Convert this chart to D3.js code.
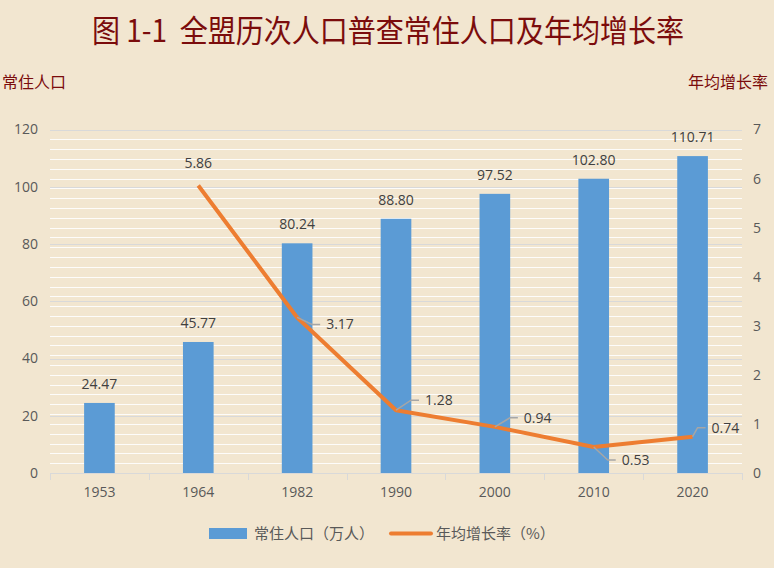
<!DOCTYPE html>
<html><head><meta charset="utf-8">
<script src="https://cdn.jsdelivr.net/npm/d3@7"></script>
<style>
html,body{margin:0;padding:0;background:#F2E6D0;}
svg{display:block;}
</style></head>
<body>
<svg id="chart" width="774" height="568"></svg>
<script>
const years = ["1953","1964","1982","1990","2000","2010","2020"];
const population = [24.47,45.77,80.24,88.80,97.52,102.80,110.71];
const growth = [null,5.86,3.17,1.28,0.94,0.53,0.74];
const leftTicks = [0,20,40,60,80,100,120];
const rightTicks = [0,1,2,3,4,5,6,7];
// label placement for growth labels: [dx, dy, type]
const growthLabelOffsets = [null,[0,-22,"above"],[33,7,"leader"],[33,-10,"leader"],[33,-9,"leader"],[32,13,"leader"],[23,-9,"leader"]];

const svg = d3.select("#chart");
const W=774,H=568;
svg.append("rect").attr("width",W).attr("height",H).attr("fill","#F2E6D0");
const m={l:50,r:742,t:129.5,b:473};
const x=d3.scaleBand().domain(years).range([m.l,m.r]).paddingInner(0.69).paddingOuter(0.345);
const xb=d3.scaleBand().domain(years).range([m.l,m.r]);
const yL=d3.scaleLinear().domain([0,120]).range([m.b,m.t]);
const yR=d3.scaleLinear().domain([0,7]).range([m.b,m.t]);
const grey="#595959";
const font="'Open Sans','Noto Sans CJK SC',sans-serif";
const cjk="'Noto Sans CJK SC',sans-serif";

// minor grid (right axis every 0.2)
const minor=d3.range(0,7.01,0.2);
svg.append("g").selectAll("line").data(minor).join("line")
 .attr("x1",m.l).attr("x2",m.r).attr("y1",d=>Math.round(yR(d))+0.5).attr("y2",d=>Math.round(yR(d))+0.5)
 .attr("stroke","#FFFFFF").attr("stroke-width",1).attr("opacity",0.9);
// major grid
svg.append("g").selectAll("line").data(leftTicks.slice(1)).join("line")
 .attr("x1",m.l).attr("x2",m.r).attr("y1",d=>Math.round(yL(d))+0.5).attr("y2",d=>Math.round(yL(d))+0.5)
 .attr("stroke","#D9D9D9").attr("stroke-width",1);

// bars
svg.append("g").selectAll("rect").data(population).join("rect")
 .attr("x",(d,i)=>x(years[i])).attr("width",x.bandwidth())
 .attr("y",d=>yL(d)).attr("height",d=>yL(0)-yL(d)).attr("fill","#5B9BD5");

// x axis
const xAxis=d3.axisBottom(xb).tickSize(0).tickPadding(14);
const gx=svg.append("g").attr("transform",`translate(0,${m.b})`).call(xAxis);
gx.select(".domain").attr("stroke","#D9D9D9");
gx.selectAll("text").attr("fill",grey).attr("font-size",14).attr("font-family",font);
svg.append("g").selectAll("line").data(d3.range(years.length+1)).join("line")
 .attr("x1",i=>Math.round(m.l+i*xb.step())+0.5).attr("x2",i=>Math.round(m.l+i*xb.step())+0.5)
 .attr("y1",m.b).attr("y2",m.b+7).attr("stroke","#D9D9D9");

// left axis
const gl=svg.append("g").attr("transform",`translate(${m.l},0)`)
 .call(d3.axisLeft(yL).tickValues(leftTicks).tickSize(0).tickPadding(12));
gl.select(".domain").remove();
gl.selectAll("text").attr("fill",grey).attr("font-size",14).attr("font-family",font);
// right axis
const gr=svg.append("g").attr("transform",`translate(${m.r},0)`)
 .call(d3.axisRight(yR).tickValues(rightTicks).tickFormat(d3.format("d")).tickSize(0).tickPadding(11));
gr.select(".domain").remove();
gr.selectAll("text").attr("fill",grey).attr("font-size",14).attr("font-family",font);

// bar labels
svg.append("g").selectAll("text").data(population).join("text")
 .attr("x",(d,i)=>x(years[i])+x.bandwidth()/2).attr("y",d=>yL(d)-14)
 .attr("text-anchor","middle").attr("fill","#404040").attr("font-size",14).attr("font-family",font)
 .text(d=>d.toFixed(2));

// line
const pts=growth.map((g,i)=>g==null?null:{x:x(years[i])+x.bandwidth()/2,y:yR(g),v:g,i});
const valid=pts.filter(p=>p);
svg.append("path").datum(valid)
 .attr("d",d3.line().x(d=>d.x).y(d=>d.y))
 .attr("fill","none").attr("stroke","#ED7D31").attr("stroke-width",4).attr("stroke-linejoin","round");

// growth labels
const lg=svg.append("g");
valid.forEach(p=>{
  const o=growthLabelOffsets[p.i];
  if(o[2]==="above"){
    lg.append("text").attr("x",p.x).attr("y",p.y+o[1]+5).attr("text-anchor","middle")
      .attr("fill","#404040").attr("font-size",14).attr("font-family",font).text(p.v.toFixed(2));
  } else {
    const ex=p.x+o[0]-10, ey=p.y+o[1];
    lg.append("polyline").attr("points",`${p.x},${p.y} ${ex-8},${ey} ${ex},${ey}`)
      .attr("fill","none").attr("stroke","#A6A6A6").attr("stroke-width",1.5);
    lg.append("text").attr("x",ex+6).attr("y",ey+5).attr("fill","#404040")
      .attr("font-size",14).attr("font-family",font).text(p.v.toFixed(2));
  }
});

// title
svg.append("text").attr("x",388).attr("y",42).attr("text-anchor","middle")
 .attr("fill","#7B0C0C").attr("font-size",31).attr("font-family",cjk)
 .attr("textLength",592).attr("lengthAdjust","spacingAndGlyphs")
 .style("white-space","pre")
 .text("图 1-1\u00a0\u00a0全盟历次人口普查常住人口及年均增长率");
svg.append("text").attr("x",2).attr("y",88).attr("fill","#7B0C0C").attr("font-size",16)
 .attr("font-family",cjk).text("常住人口");
svg.append("text").attr("x",768).attr("y",88).attr("text-anchor","end").attr("fill","#7B0C0C").attr("font-size",16)
 .attr("font-family",cjk).text("年均增长率");

// legend
const leg=svg.append("g");
leg.append("rect").attr("x",209).attr("y",528).attr("width",38).attr("height",11).attr("fill","#5B9BD5");
leg.append("text").attr("x",254).attr("y",539).attr("fill",grey).attr("font-size",15)
 .attr("font-family",cjk).text("常住人口（万人）");
leg.append("line").attr("x1",391).attr("x2",431).attr("y1",533.5).attr("y2",533.5)
 .attr("stroke","#ED7D31").attr("stroke-width",4).attr("stroke-linecap","round");
leg.append("text").attr("x",436).attr("y",539).attr("fill",grey).attr("font-size",15)
 .attr("font-family",cjk).text("年均增长率（%）");
</script>
</body></html>
